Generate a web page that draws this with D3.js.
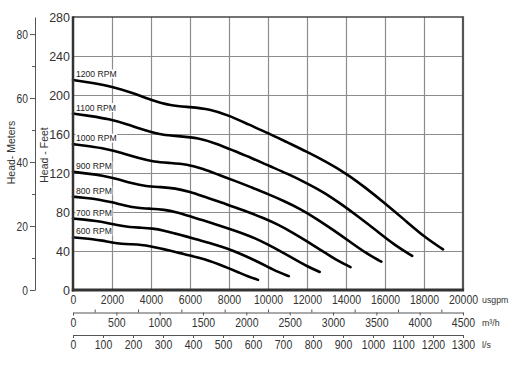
<!DOCTYPE html>
<html><head><meta charset="utf-8">
<script src="https://cdn.jsdelivr.net/npm/d3@7"></script>
<style>
html,body{margin:0;padding:0;background:#fff;}
svg{display:block;font-family:"Liberation Sans",Arial,sans-serif;}
</style></head><body>
<svg id="c" width="513" height="365"></svg>
<script>
// ---- data (flow usgpm, head feet) ----
const rpmNames = ["1200 RPM","1100 RPM","1000 RPM","900 RPM","800 RPM","700 RPM","600 RPM"];
const rpm1200 = [[0,215.4],[1000,212.3],[2000,208.7],[3000,202.6],[4000,194.9],[5000,189.0],[6000,187.7],[7000,185.6],[8000,179.0],[9000,169.8],[10000,161.0],[11000,151.3],[12000,141.8],[13000,131.3],[14000,119.7],[15000,105.0],[16000,88.9],[17000,72.0],[18000,54.7],[18975,41.7]];
const rpm1100 = [[0,181.0],[917,178.4],[1833,175.4],[2750,170.2],[3667,163.8],[4583,158.8],[5500,157.7],[6417,156.0],[7333,150.4],[8250,142.7],[9167,135.3],[10083,127.1],[11000,119.2],[11917,110.3],[12833,100.6],[13750,88.2],[14667,74.7],[15583,60.5],[16500,46.0],[17394,35.0]];
const rpm1000 = [[0,149.6],[833,147.4],[1667,144.9],[2500,140.7],[3333,135.3],[4167,131.3],[5000,130.3],[5833,128.9],[6667,124.3],[7500,117.9],[8333,111.8],[9167,105.1],[10000,98.5],[10833,91.2],[11667,83.1],[12500,72.9],[13333,61.7],[14167,50.0],[15000,38.0],[15813,29.0]];
const rpm900 = [[0,121.2],[750,119.4],[1500,117.4],[2250,114.0],[3000,109.6],[3750,106.3],[4500,105.6],[5250,104.4],[6000,100.7],[6750,95.5],[7500,90.6],[8250,85.1],[9000,79.8],[9750,73.9],[10500,67.3],[11250,59.1],[12000,50.0],[12750,40.5],[13500,30.8],[14231,23.5]];
const rpm800 = [[0,95.7],[667,94.4],[1333,92.8],[2000,90.0],[2667,86.6],[3333,84.0],[4000,83.4],[4667,82.5],[5333,79.6],[6000,75.5],[6667,71.6],[7333,67.2],[8000,63.0],[8667,58.4],[9333,53.2],[10000,46.7],[10667,39.5],[11333,32.0],[12000,24.3],[12650,18.5]];
const rpm700 = [[0,73.3],[583,72.2],[1167,71.0],[1750,68.9],[2333,66.3],[2917,64.3],[3500,63.9],[4083,63.2],[4667,60.9],[5250,57.8],[5833,54.8],[6417,51.5],[7000,48.3],[7583,44.7],[8167,40.7],[8750,35.7],[9333,30.3],[9917,24.5],[10500,18.6],[11069,14.2]];
const rpm600 = [[0,53.9],[500,53.1],[1000,52.2],[1500,50.7],[2000,48.7],[2500,47.3],[3000,46.9],[3500,46.4],[4000,44.8],[4500,42.5],[5000,40.3],[5500,37.8],[6000,35.5],[6500,32.8],[7000,29.9],[7500,26.3],[8000,22.2],[8500,18.0],[9000,13.7],[9488,10.4]];
const seriesList = [rpm1200, rpm1100, rpm1000, rpm900, rpm800, rpm700, rpm600];

// ---- tick labels ----
const feetTicks = [0,40,80,120,160,200,240,280];
const meterTicks = [0,20,40,60,80];
const meterMinor = [10,30,50,70];
const usgpmTicks = [0,2000,4000,6000,8000,10000,12000,14000,16000,18000,20000];
const m3hTicks = [0,500,1000,1500,2000,2500,3000,3500,4000,4500];
const m3hMinor = [250,750,1250,1750,2250,2750,3250,3750,4250];
const lsTicks = [0,100,200,300,400,500,600,700,800,900,1000,1100,1200,1300];
const unitLabels = ["usgpm","m\u00b3/h","l/s"];
const axisTitles = ["Head- Meters","Head - Feet"];

// ---- layout ----
const svg = d3.select("#c");
const L=73, R=463, T=17, B=290;
const x = d3.scaleLinear().domain([0,20000]).range([L,R]);
const y = d3.scaleLinear().domain([0,280]).range([B,T]);
const yM = d3.scaleLinear().domain([0,280/3.28084]).range([B,T]);
const xM3 = d3.scaleLinear().domain([0,4500]).range([L,R]);
const xLs = d3.scaleLinear().domain([0,1300]).range([L,R]);
const txt = "#333";
const fmt = d => String(d);

// grid
const gGrid = svg.append("g");
gGrid.append("g").attr("transform",`translate(0,${B})`)
  .call(d3.axisBottom(x).tickValues(usgpmTicks.slice(1,-1)).tickSize(-(B-T)).tickFormat(""))
  .call(g=>g.select(".domain").remove())
  .selectAll("line").attr("stroke","#8c8c8c").attr("stroke-width",1.2);
gGrid.append("g").attr("transform",`translate(${L},0)`)
  .call(d3.axisLeft(y).tickValues(feetTicks.slice(1,-1)).tickSize(-(R-L)).tickFormat(""))
  .call(g=>g.select(".domain").remove())
  .selectAll("line").attr("stroke","#8c8c8c").attr("stroke-width",1.2);

// curve labels with white background
const gLab = svg.append("g");
seriesList.forEach((s,i)=>{
  const t = gLab.append("text").attr("x",76).attr("y",y(s[0][1])-6).attr("dy","0.35em")
    .attr("font-size",8.6).attr("fill","#222").text(rpmNames[i]);
  const bb = t.node().getBBox();
  gLab.insert("rect","text").attr("x",bb.x-0.5).attr("y",bb.y+0.5).attr("width",bb.width+1).attr("height",bb.height-1).attr("fill","#fff");
});
gLab.selectAll("text").raise();

// curves
const line = d3.line().x(d=>x(d[0])).y(d=>y(d[1])).curve(d3.curveBasis);
svg.append("g").selectAll("path").data(seriesList).join("path")
  .attr("d",line).attr("fill","none").attr("stroke","#000").attr("stroke-width",2.6)
  .attr("stroke-linecap","round").attr("stroke-linejoin","round");

// frame
svg.append("line").attr("x1",L).attr("x2",R).attr("y1",T).attr("y2",T).attr("stroke","#444").attr("stroke-width",1.6);
svg.append("line").attr("x1",R).attr("x2",R).attr("y1",T-0.8).attr("y2",B).attr("stroke","#555").attr("stroke-width",2.2);
svg.append("line").attr("x1",L).attr("x2",L).attr("y1",T-0.8).attr("y2",B+1.5).attr("stroke","#333").attr("stroke-width",2.5);
svg.append("line").attr("x1",L-1.2).attr("x2",R+1.1).attr("y1",B).attr("y2",B).attr("stroke","#333").attr("stroke-width",3);

function styleText(g, size, sx){
  g.selectAll("text").attr("font-size",size).attr("fill",txt).attr("font-family","Liberation Sans, Arial, sans-serif");
  if (sx !== 1) g.selectAll("text").each(function(){
    const el = d3.select(this);
    const xx = +(el.attr("x")||0);
    el.attr("x",0).attr("transform",`translate(${xx},0) scale(${sx},1)`);
  });
}

// feet axis labels
svg.append("g").attr("transform",`translate(${L},0)`)
  .call(d3.axisLeft(y).tickValues(feetTicks).tickFormat(fmt).tickSize(0).tickPadding(3))
  .call(g=>g.select(".domain").remove())
  .call(g=>styleText(g,12.5,1));

// meters axis
const gM = svg.append("g").attr("transform","translate(35,0)")
  .call(d3.axisLeft(yM).tickValues(meterTicks).tickFormat(fmt).tickSize(5).tickPadding(2).tickSizeOuter(0))
  .call(g=>styleText(g,12.5,0.82));
gM.select(".domain").attr("stroke","#555");
gM.selectAll(".tick line").attr("stroke","#555");
svg.append("g").attr("transform","translate(35,0)")
  .call(d3.axisLeft(yM).tickValues(meterMinor).tickSize(3).tickFormat(""))
  .call(g=>g.select(".domain").remove())
  .selectAll("line").attr("stroke","#555");

// usgpm axis
svg.append("g").attr("transform",`translate(0,${B})`)
  .call(d3.axisBottom(x).tickValues(usgpmTicks).tickFormat(fmt).tickSize(0).tickPadding(5))
  .call(g=>g.select(".domain").remove())
  .call(g=>styleText(g,12.5,0.84));

// m3/h axis
const yA2 = 312.5;
const gA2 = svg.append("g").attr("transform",`translate(0,${yA2})`)
  .call(d3.axisBottom(xM3).tickValues(m3hTicks).tickFormat(fmt).tickSize(3).tickPadding(3).tickSizeOuter(0))
  .call(g=>styleText(g,12.5,0.84));
gA2.select(".domain").attr("stroke","#555");
gA2.selectAll(".tick line").attr("stroke","#555");
svg.append("g").attr("transform",`translate(0,${yA2})`)
  .call(d3.axisTop(xM3).tickValues(m3hMinor).tickSize(3).tickFormat(""))
  .call(g=>g.select(".domain").remove())
  .selectAll("line").attr("stroke","#555");

// l/s axis
const yA3 = 335;
const gA3 = svg.append("g").attr("transform",`translate(0,${yA3})`)
  .call(d3.axisBottom(xLs).tickValues(lsTicks).tickFormat(fmt).tickSize(3).tickPadding(2.5).tickSizeOuter(0))
  .call(g=>styleText(g,12.5,0.84));
gA3.select(".domain").attr("stroke","#555");
gA3.selectAll(".tick line").attr("stroke","#555");

// unit labels
[[300,unitLabels[0]],[323,unitLabels[1]],[345,unitLabels[2]]].forEach(([yy,t])=>{
  svg.append("text").attr("x",482).attr("y",yy).attr("dy","0.35em")
    .attr("font-size",8.8).attr("fill",txt).text(t);
});

// axis titles
svg.append("text").attr("transform","translate(15,152.5) rotate(-90)")
  .attr("text-anchor","middle").attr("font-size",10.5).attr("fill",txt).text(axisTitles[0]);
svg.append("text").attr("transform","translate(47.5,155) rotate(-90)")
  .attr("text-anchor","middle").attr("font-size",10.5).attr("fill",txt).text(axisTitles[1]);
</script>
</body></html>
